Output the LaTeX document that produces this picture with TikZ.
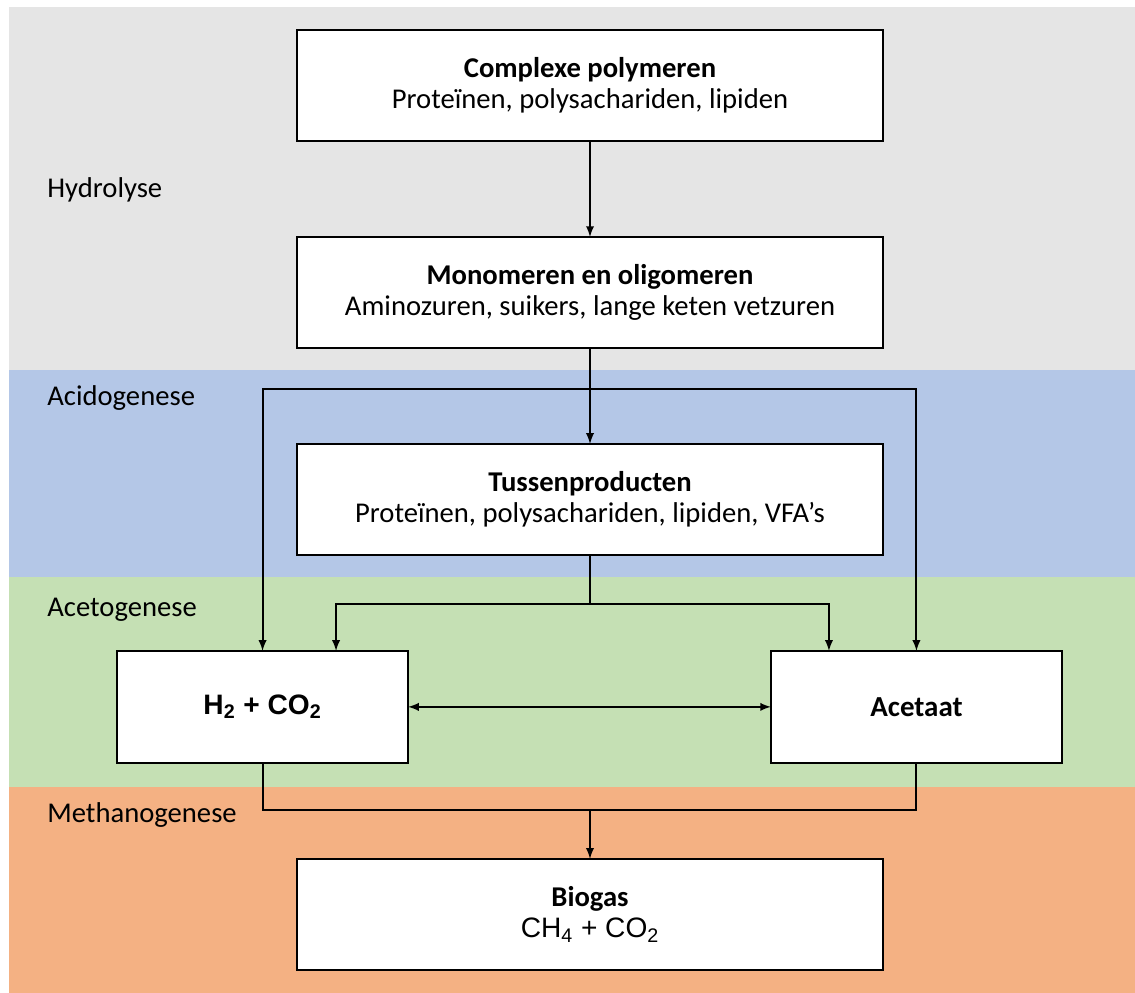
\documentclass[tikz,border=0pt]{standalone}
\usepackage{fontspec}
\setmainfont{Carlito}
\newfontfamily\arialfont{Liberation Sans}
\usepackage{tikz}
\usetikzlibrary{shapes,arrows,calc,positioning,backgrounds}

\definecolor{hydgrey}{HTML}{E5E5E5}
\definecolor{acidblue}{HTML}{B4C7E7}
\definecolor{acetgreen}{HTML}{C5E0B4}
\definecolor{methorange}{HTML}{F4B183}

\begin{document}
\begin{tikzpicture}[x=0.02cm,y=-0.02cm,
        box/.style={draw,fill=white,rectangle,line width=0.8pt,outer sep=0pt,align=center,
                    minimum width=11.72cm,minimum height=2.22cm,
                    font=\fontsize{16.3}{17.6}\selectfont},
        smallbox/.style={box,minimum width=5.82cm,minimum height=2.24cm,font=\fontsize{16.5}{18}\selectfont\bfseries},
        lab/.style={anchor=west,inner sep=0pt,font=\fontsize{16.3}{18}\selectfont},
        conn/.style={line width=1.1pt,>=latex}]

        \useasboundingbox (0,0) rectangle (1135,993);

        % fases
        \fill[hydgrey] (9,7) rectangle (1135,370);
        \fill[acidblue] (9,370) rectangle (1135,577);
        \fill[acetgreen] (9,577) rectangle (1135,787);
        \fill[methorange] (9,787) rectangle (1135,993);

        \node[lab] (hyd) at (47,190) {Hydrolyse};
        \node[lab] (acid) at (47,398) {Acidogenese};
        \node[lab] (acet) at (47,610) {Acetogenese};
        \node[lab] (meth) at (47,815) {Methanogenese};

        % stoffen
        \node[box] (poly) at (590,85.5) {\textbf{Complexe polymeren}\\Proteïnen, polysachariden, lipiden};
        \node[box] (mono) [below=1.92cm of poly] {\textbf{Monomeren en oligomeren}\\Aminozuren, suikers, lange keten vetzuren};
        \node[box] (tus) [below=1.92cm of mono] {\textbf{Tussenproducten}\\Proteïnen, polysachariden, lipiden, VFA’s};
        \node[smallbox] (h2) [below=1.92cm of tus,xshift=-6.55cm] {\arialfont\fontsize{16}{18}\selectfont H\textsubscript{2} + CO\textsubscript{2}};
        \node[smallbox] (ac) [below=1.92cm of tus,xshift=6.53cm] {Acetaat};
        \node[box] (bio) [below=1.92cm of h2,xshift=6.55cm] {\textbf{Biogas}\\{\arialfont\fontsize{16}{17.6}\selectfont CH\textsubscript{4} + CO\textsubscript{2}}};

        \coordinate (j1) at ($(mono.south)+(0,-0.82cm)$);
        \coordinate (j2) at ($(tus.south)+(0,-0.98cm)$);
        \coordinate (j3) at ($(h2.south)+(0,-0.94cm)$);

        \draw[conn,->] (poly) -- (mono);
        \draw[conn,->] (mono) -- (tus);
        \draw[conn,->] (j1) -| (h2.north);
        \draw[conn,->] (j1) -| (ac.north);
        \draw[conn] (tus) -- (j2);
        \draw[conn,->] (j2) -| ([xshift=1.47cm]h2.north);
        \draw[conn,->] (j2) -| ([xshift=-1.75cm]ac.north);
        \draw[conn,<->] (h2) -- (ac);
        \draw[conn] (h2.south) -- (j3) -| (ac.south);
        \draw[conn,->] (j3 -| bio.north) -- (bio.north);
\end{tikzpicture}
\end{document}
